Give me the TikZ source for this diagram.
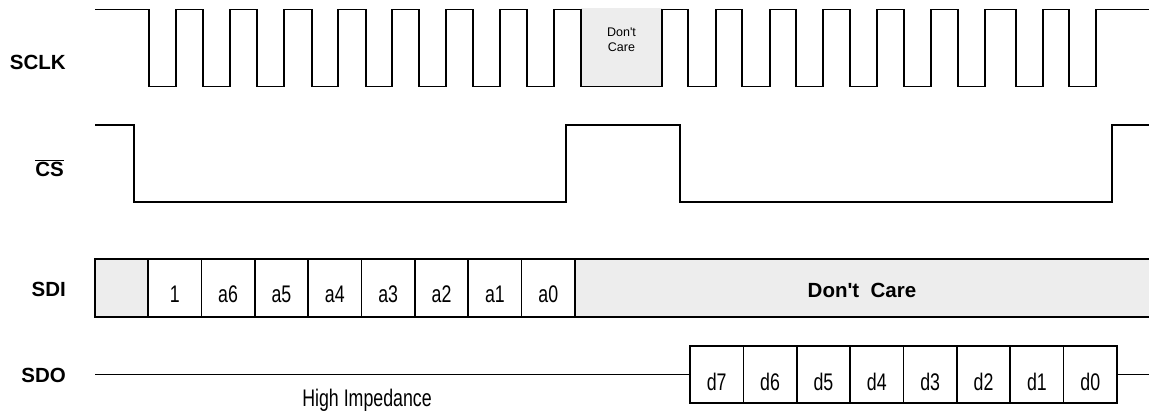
\documentclass[tikz,border=0pt]{standalone}
\usepackage{fontspec}
\setmainfont{Liberation Sans}
\usepackage{graphicx}
\definecolor{dcgray}{HTML}{EDEDED}
\tikzset{
  wave/.style={line width=1.6pt, line join=miter},
  frame/.style={draw, line width=1.6pt},
  siglabel/.style={font=\fontsize{20.5}{22}\selectfont\bfseries, anchor=base east, inner sep=0pt},
  celltxt/.style={font=\fontsize{24}{26}\selectfont, anchor=base, inner sep=0pt},
  bigdc/.style={font=\fontsize{20.5}{22}\selectfont\bfseries, anchor=base, inner sep=0pt},
  smalldc/.style={font=\fontsize{12.5}{15}\selectfont, align=center, inner sep=0pt},
}
\newcommand{\narrowtxt}[1]{\scalebox{0.74}[1]{#1}}
\begin{document}
\begin{tikzpicture}[x=1pt,y=-1pt]
\useasboundingbox (0,0) rectangle (1149,413);

% ---------- labels ----------
\node[siglabel] (lsclk) at (66,69.5) {SCLK};
\node[siglabel] (lcs) at (64,176) {$\overline{\mbox{\bfseries CS}}$};
\node[siglabel] (lsdi) at (66,296.5) {SDI};
\node[siglabel] (lsdo) at (66,382.5) {SDO};

% ---------- SCLK ----------
\node[fill=dcgray, minimum width=81pt, minimum height=78.5pt, inner sep=0pt] (dcbox) at (621.5,47.25) {};
\node[smalldc] (dctext) at (621.5,39.5) {Don\textquotesingle t\\Care};
\draw[wave] (95,9.5)
  foreach \f/\r in {149/176,203/230,257/284,312/338,366/392,419/446,473/500,527/554,581/662,688/716,742/770,796/823,850/877,904/931,958/985,1016/1043,1069/1096}
  { -- (\f,9.5) -- (\f,86.5) -- (\r,86.5) -- (\r,9.5) }
  -- (1149,9.5);

% ---------- CS ----------
\draw[wave] (95,124.7) -- (134,124.7) -- (134,201.7) -- (566,201.7) -- (566,124.7)
  -- (680,124.7) -- (680,201.7) -- (1112,201.7) -- (1112,124.7) -- (1149,124.7);

% ---------- SDI ----------
\fill[dcgray] (95,259) rectangle (148,317);
\fill[dcgray] (575,259) rectangle (1149,317);
\draw[frame] (1149,259) -- (95,259) -- (95,317) -- (1149,317);
\foreach \i in {0,...,8} \draw[frame] ({148+53.375*\i},259) -- ++(0,58);
\foreach \t [count=\i from 0] in {1,a6,a5,a4,a3,a2,a1,a0}
  \node[celltxt] (sdi\i) at ({148+53.375*(\i+0.5)},302) {\narrowtxt{\t}};
\node[bigdc] (sdidc) at (862,297.5) {Don\textquotesingle t\ \ Care};

% ---------- SDO ----------
\coordinate (sdostart) at (95,374.5);
\coordinate (sdoend) at (1149,374.5);
\node[draw, line width=1.6pt, minimum width=427pt, minimum height=57pt, inner sep=0pt] (sdobox) at (903.5,374.5) {};
\draw[wave] (sdostart) -- (sdobox.west);
\draw[wave] (sdobox.east) -- (sdoend);
\foreach \i in {1,...,7} \draw[frame] ({690+53.375*\i},346) -- ++(0,57);
\foreach \t [count=\i from 0] in {d7,d6,d5,d4,d3,d2,d1,d0}
  \node[celltxt] (sdo\i) at ({690+53.375*(\i+0.5)},390) {\narrowtxt{\t}};
\node[celltxt] (hiz) at (367,406) {\narrowtxt{High Impedance}};
\end{tikzpicture}
\end{document}
